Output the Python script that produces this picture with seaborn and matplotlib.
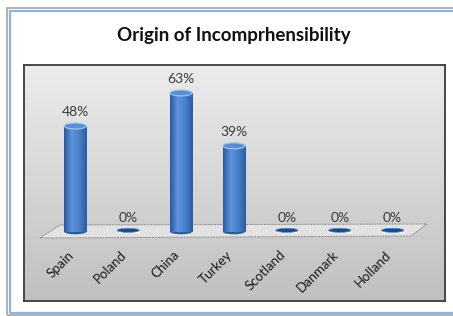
import numpy as np
import matplotlib
matplotlib.use("Agg")
import matplotlib.pyplot as plt
from matplotlib.patches import Rectangle, Polygon, Ellipse
import seaborn as sns

countries = ["Spain", "Poland", "China", "Turkey", "Scotland", "Danmark", "Holland"]
shares = [48, 0, 63, 39, 0, 0, 0]
title = "Origin of Incomprhensibility"

sns.set_theme(style="white")
plt.rcParams["font.family"] = ["Lato", "DejaVu Sans"]

W, H = 453, 316
fig = plt.figure(figsize=(W / 100, H / 100), dpi=100)
fig.patch.set_facecolor("white")

# outer chart frame (gray line, then blue line)
fig.patches.append(Rectangle((7 / W, 1 - 315 / H), 1.2, 307 / H, transform=fig.transFigure,
                             fill=False, edgecolor="#a8a29a", linewidth=1.2))
fig.patches.append(Rectangle((10 / W, 1 - 313 / H), 1.2, 302 / H, transform=fig.transFigure,
                             fill=False, edgecolor="#8db3e2", linewidth=1.6))

fig.text(234 / W, 1 - 36 / H, title, ha="center", va="center",
         fontsize=13.5, fontweight="bold", color="#111111")

# plot area
ax = fig.add_axes([24 / W, 1 - 301 / H, 421 / W, 236 / H])
xlim = (-0.97, 6.99)
ylim = (-31.5, 75.7)

grad = np.linspace(0, 1, 256).reshape(-1, 1)
ax.imshow(grad, cmap=matplotlib.colors.LinearSegmentedColormap.from_list("bg", ["#ececec", "#c0c0c0"]),
          extent=[0, 1, 0, 1], transform=ax.transAxes, aspect="auto", zorder=0)

# floor plane
def axpt(px, py):
    return ((px - 24) / 421, (301 - py) / 236)

floor = [axpt(40, 238), axpt(60, 225), axpt(427, 224), axpt(411, 236)]
ax.add_patch(Polygon(floor, closed=True, transform=ax.transAxes, facecolor="#e2e2e2",
                     edgecolor="#8a8a8a", linewidth=0.7, linestyle=(0, (2, 1)), zorder=1))

sns.barplot(x=countries, y=shares, ax=ax, color="#3f74c2", width=0.42,
            saturation=1, zorder=3)

cyl = matplotlib.colors.LinearSegmentedColormap.from_list(
    "cyl", ["#2a5a9e", "#5d93dc", "#4a80cc", "#2c5ca0"])
hgrad = np.linspace(0, 1, 64).reshape(1, -1)
for bar, val, name in zip(ax.containers[0], shares, countries):
    x0 = bar.get_x()
    w = bar.get_width()
    xc = x0 + w / 2
    if val > 0:
        bar.set_facecolor("none")
        bar.set_edgecolor("none")
        im = ax.imshow(hgrad, cmap=cyl, extent=[x0, x0 + w, 0, val], aspect="auto", zorder=3)
        im.set_clip_path(bar)
        ax.add_patch(Ellipse((xc, 0), w, 2.4, facecolor="#2c5ca0", edgecolor="none", zorder=2.9))
        ax.add_patch(Ellipse((xc, val), w, 2.7, facecolor="#5a8fd6",
                             edgecolor="#a4c6ee", linewidth=0.8, zorder=4))
    else:
        ax.add_patch(Ellipse((xc, 0.6), w, 1.9, facecolor="#1f4a86", edgecolor="#5d8fd0",
                             linewidth=0.5, zorder=4))
    ax.text(xc, val + 3.5, f"{val}%", ha="center", va="bottom", fontsize=10,
            color="#3a3a3a", zorder=5)
    ax.text(xc - 0.15, -7.7, name, rotation=45, ha="right", va="top", rotation_mode="anchor",
            fontsize=9.5, color="#1a1a1a", zorder=5)

ax.set_xticks([])
ax.set_yticks([])
ax.set_xlabel("")
ax.set_ylabel("")
ax.set_xlim(*xlim)
ax.set_ylim(*ylim)
for s in ax.spines.values():
    s.set_visible(True)
    s.set_color("#3a3a3a")
    s.set_linewidth(1.3)

fig.savefig("out.png", dpi=100)
